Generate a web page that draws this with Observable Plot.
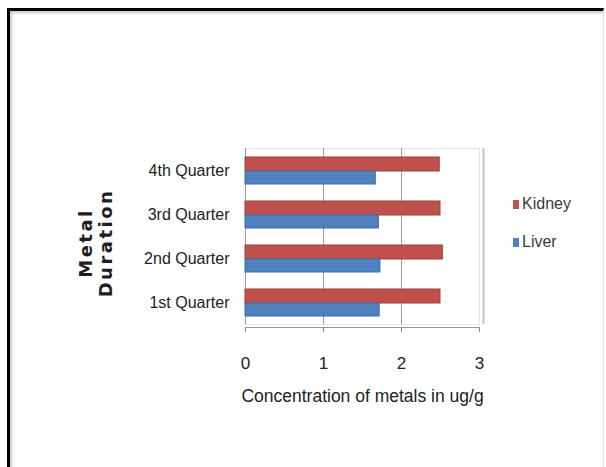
<!DOCTYPE html>
<html>
<head>
<meta charset="utf-8">
<script src="https://cdn.jsdelivr.net/npm/d3@7"></script>
<script src="https://cdn.jsdelivr.net/npm/@observablehq/plot@0.6"></script>
<style>
  html, body { margin: 0; padding: 0; background: #fff; }
  #wrap { position: relative; width: 606px; height: 467px; overflow: hidden; }
  #border { position: absolute; left: 7px; top: 8px; width: 593px; height: 480px;
    border-left: 3px solid #000; border-top: 3px solid #000; border-right: 1px solid #e4e4e4;
    box-shadow: inset 2px 2px 3px #c8c8c8; }
  #chart { position: absolute; left: 0; top: 0; }
  #ylabel { position: absolute; left: 96px; top: 243px; transform: translate(-50%, -50%) rotate(-90deg);
    font-family: "DejaVu Sans", sans-serif; font-weight: bold; font-size: 18px; letter-spacing: 2.5px;
    text-align: center; line-height: 20px; color: #1e1e1e; white-space: nowrap; }
  .leg { position: absolute; left: 513px; font-family: "Liberation Sans", Arial, sans-serif; font-size: 16px; color: #3a3a3a; display: flex; align-items: center; }
  .leg i { display: inline-block; width: 6px; height: 9px; margin-right: 3px; }
</style>
</head>
<body>
<div id="wrap">
  <div id="border"></div>
  <div id="chart"></div>
  <div id="ylabel">Metal<br>Duration</div>
  <div class="leg" style="top:195px"><i style="background:#c0504d"></i>Kidney</div>
  <div class="leg" style="top:233px"><i style="background:#4f81bd"></i>Liver</div>
</div>
<script>
const quarters = ["4th Quarter", "3rd Quarter", "2nd Quarter", "1st Quarter"];
const kidney = [2.49, 2.50, 2.53, 2.50];
const liver = [1.67, 1.71, 1.73, 1.72];
const xTicks = [0, 1, 2, 3];
const seriesNames = ["Kidney", "Liver"];
const seriesColors = ["#c0504d", "#4f81bd"];

const rows = quarters.map((q, i) => ({quarter: q, Kidney: kidney[i], Liver: liver[i]}));

const font = '"Liberation Sans", Arial, sans-serif';

const chart = Plot.plot({
  width: 606,
  height: 467,
  marginLeft: 245,
  marginRight: 127,
  marginTop: 148,
  marginBottom: 143,
  style: {background: "transparent", fontFamily: font, color: "#222"},
  x: {domain: [0, 3], ticks: xTicks},
  y: {domain: quarters, padding: 0},
  marks: [
    Plot.frame({stroke: "#e2e2e2"}),
    Plot.ruleX([1, 2], {stroke: "#9a9a9a"}),
    Plot.ruleX([3], {stroke: "#c4c4c4", strokeWidth: 2, dx: 4}),
    Plot.ruleX([0], {stroke: "#9a9a9a"}),
    Plot.frame({anchor: "bottom", stroke: "#9a9a9a", dy: 3}),
    Plot.barX(rows, {y: "quarter", x: seriesNames[0], fill: seriesColors[0], stroke: "#a23e3b", strokeWidth: 1, insetTop: 9, insetBottom: 21}),
    Plot.barX(rows, {y: "quarter", x: seriesNames[1], fill: seriesColors[1], stroke: "#3c6ca6", strokeWidth: 1, insetTop: 23, insetBottom: 8}),
    Plot.axisX({ticks: xTicks, tickSize: 5, tickPadding: 24, fontSize: 17, stroke: "#888", dy: 3, tickFormat: d3.format("d"),
      label: "Concentration of metals in ug/g", labelAnchor: "center", labelArrow: "none", labelOffset: 77}),
    Plot.axisY({tickSize: 0, tickPadding: 16, fontSize: 16, label: null})
  ]
});
const xl = chart.querySelector('g[aria-label="x-axis label"]');
if (xl) { xl.setAttribute("font-size", "17.5"); }
document.getElementById("chart").appendChild(chart);
</script>
</body>
</html>
